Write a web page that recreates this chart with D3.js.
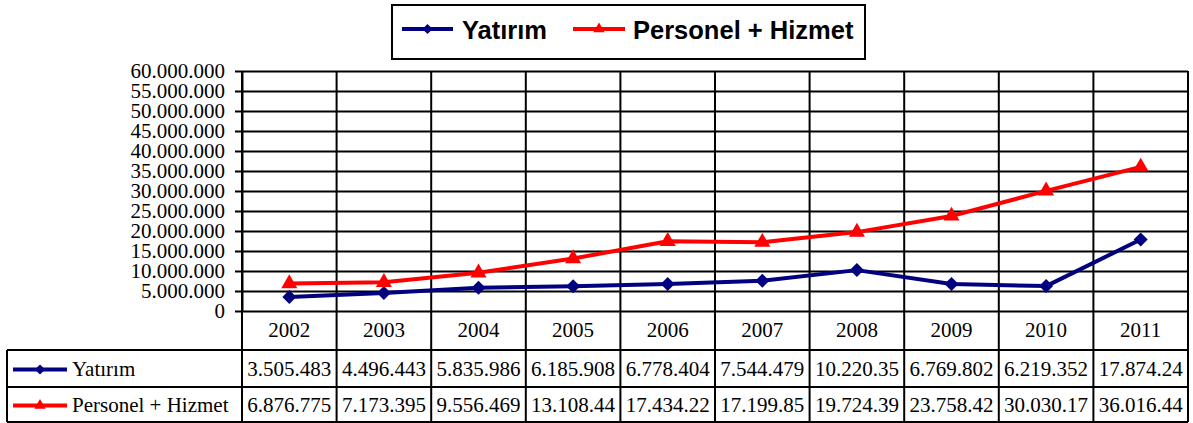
<!DOCTYPE html>
<html>
<head>
<meta charset="utf-8">
<script src="https://cdn.jsdelivr.net/npm/d3@7"></script>
<style>
body { margin: 0; background: #fff; }
text { font-family: "Liberation Serif", "Times New Roman", serif; font-size: 21px; fill: #000; }
.legend-text { font-family: "Liberation Sans", Arial, sans-serif; font-weight: bold; font-size: 25.5px; }
</style>
</head>
<body>
<div class="main"></div>
<script>
//data
const years = ["2002", "2003", "2004", "2005", "2006", "2007", "2008", "2009", "2010", "2011"];
const yatirim = [3505483, 4496443, 5835986, 6185908, 6778404, 7544479, 10220350, 6769802, 6219352, 17874240];
const personel = [6876775, 7173395, 9556469, 13108440, 17434220, 17199850, 19724390, 23758420, 30030170, 36016440];
const seriesNames = ["Yatırım", "Personel + Hizmet"];
const seriesColors = ["#000080", "#ff0000"];
const seriesShapes = ["diamond", "triangle"];

//sizes
const w = 1193;
const h = 423;
const plotLeft = 242, plotRight = 1188, plotTop = 71, plotBottom = 311;
const rowLines = [350, 387, 422];
const rowBase = [376, 412];
const tableLeft = 7;

const trLocale = d3.formatLocale({decimal: ",", thousands: ".", grouping: [3], currency: ["", ""]});
const fmt = trLocale.format(",d");

const xScale = d3.scaleBand().domain(years).range([plotLeft, plotRight]);
const yScale = d3.scaleLinear().domain([0, 60000000]).range([plotBottom, plotTop]);
const bw = xScale.bandwidth();

const svg = d3.select(".main")
  .append("svg")
  .attr("width", w)
  .attr("height", h);

const yAxis = d3.axisLeft(yScale)
  .ticks(12)
  .tickSize(-(plotRight - plotLeft))
  .tickSizeOuter(0)
  .tickPadding(17)
  .tickFormat(fmt);

const gy = svg.append("g")
  .attr("transform", "translate(" + plotLeft + ",0)")
  .call(yAxis);
gy.selectAll(".tick line").attr("x1", -7).attr("stroke", "#000").attr("stroke-width", 2);
gy.select(".domain").attr("stroke", "#000").attr("stroke-width", 2);
gy.selectAll(".tick text").attr("dy", "0.33em");

//vertical lines through chart and table
const bounds = years.map(d => xScale(d)).concat([plotRight]);
svg.selectAll(".vline")
  .data(bounds)
  .enter()
  .append("line")
  .attr("x1", d => d).attr("x2", d => d)
  .attr("y1", plotTop).attr("y2", rowLines[2])
  .attr("stroke", "#000").attr("stroke-width", 2);

svg.selectAll(".hline")
  .data(rowLines)
  .enter()
  .append("line")
  .attr("x1", tableLeft).attr("x2", plotRight)
  .attr("y1", d => d).attr("y2", d => d)
  .attr("stroke", "#000").attr("stroke-width", 2);

svg.append("line")
  .attr("x1", tableLeft).attr("x2", tableLeft)
  .attr("y1", rowLines[0]).attr("y2", rowLines[2])
  .attr("stroke", "#000").attr("stroke-width", 2);

svg.selectAll(".year")
  .data(years)
  .enter()
  .append("text")
  .attr("x", d => xScale(d) + bw / 2)
  .attr("y", 337)
  .attr("text-anchor", "middle")
  .text(d => d);

function marker(shape, big) {
  if (shape === "diamond") {
    return d3.symbol(d3.symbolSquare, big ? 98 : 52)();
  }
  return d3.symbol(d3.symbolTriangle, big ? 112 : 56)();
}

const series = [yatirim, personel];

series.forEach((vals, k) => {
  //table row
  svg.selectAll(".val" + k)
    .data(vals)
    .enter()
    .append("text")
    .attr("x", (d, i) => xScale(years[i]) + bw / 2)
    .attr("y", rowBase[k])
    .attr("text-anchor", "middle")
    .text(d => fmt(d).slice(0, 9));

  const ly = (rowLines[k] + rowLines[k + 1]) / 2 + 1;
  svg.append("line")
    .attr("x1", 13).attr("x2", 67)
    .attr("y1", ly).attr("y2", ly)
    .attr("stroke", seriesColors[k]).attr("stroke-width", 4);
  svg.append("path")
    .attr("d", marker(seriesShapes[k], false))
    .attr("transform", "translate(40," + ly + ")" + (seriesShapes[k] === "diamond" ? " rotate(45)" : ""))
    .attr("fill", seriesColors[k]);
  svg.append("text")
    .attr("x", 72)
    .attr("y", rowBase[k])
    .text(seriesNames[k]);

  //line
  const line = d3.line()
    .x((d, i) => xScale(years[i]) + bw / 2)
    .y(d => yScale(d));
  svg.append("path")
    .datum(vals)
    .attr("d", line)
    .attr("fill", "none")
    .attr("stroke", seriesColors[k])
    .attr("stroke-width", 4)
    .attr("stroke-linejoin", "round");
  svg.selectAll(".pt" + k)
    .data(vals)
    .enter()
    .append("path")
    .attr("d", marker(seriesShapes[k], true))
    .attr("transform", (d, i) => "translate(" + (xScale(years[i]) + bw / 2) + "," + yScale(d) + ")" + (seriesShapes[k] === "diamond" ? " rotate(45)" : ""))
    .attr("fill", seriesColors[k]);
});

//legend
svg.append("rect")
  .attr("x", 392).attr("y", 5)
  .attr("width", 473).attr("height", 54)
  .attr("fill", "#fff")
  .attr("stroke", "#000")
  .attr("stroke-width", 2);

const legendX = [[402, 453, 462], [573, 625, 633]];
seriesNames.forEach((name, k) => {
  const lx = legendX[k];
  svg.append("line")
    .attr("x1", lx[0]).attr("x2", lx[1])
    .attr("y1", 29).attr("y2", 29)
    .attr("stroke", seriesColors[k]).attr("stroke-width", 4);
  svg.append("path")
    .attr("d", marker(seriesShapes[k], false))
    .attr("transform", "translate(" + (lx[0] + lx[1]) / 2 + ",29)" + (seriesShapes[k] === "diamond" ? " rotate(45)" : ""))
    .attr("fill", seriesColors[k]);
  svg.append("text")
    .attr("class", "legend-text")
    .attr("x", lx[2])
    .attr("y", 39)
    .text(name);
});
</script>
</body>
</html>
